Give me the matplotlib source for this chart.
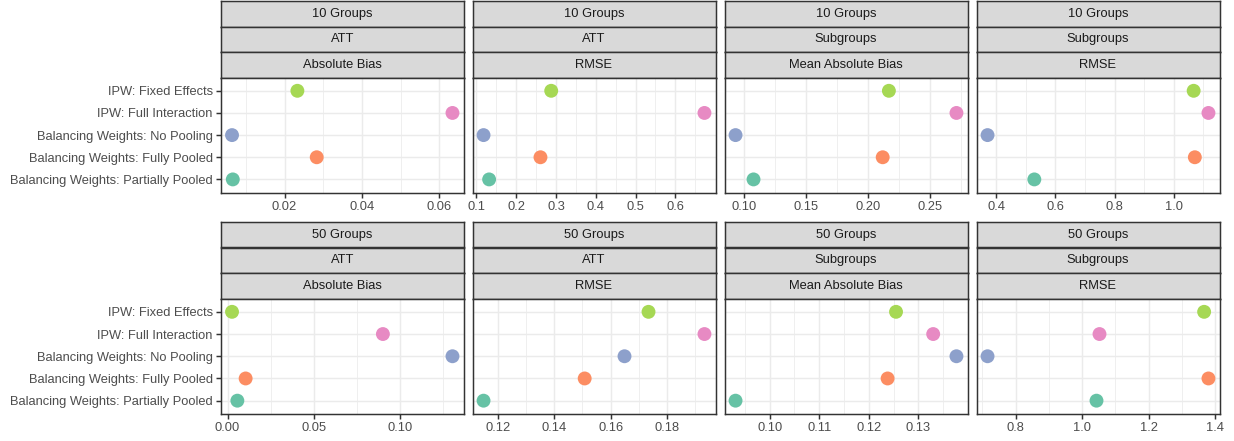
import numpy as np
import matplotlib
matplotlib.use("Agg")
import matplotlib.pyplot as plt

plt.rcParams["font.family"] = ["Liberation Sans", "DejaVu Sans"]

# Methods, listed bottom to top
methods = [
    "Balancing Weights: Partially Pooled",
    "Balancing Weights: Fully Pooled",
    "Balancing Weights: No Pooling",
    "IPW: Full Interaction",
    "IPW: Fixed Effects",
]
method_colors = ["#66C2A5", "#FC8D62", "#8DA0CB", "#E78AC3", "#A6D854"]

group_labels = ["10 Groups", "50 Groups"]
estimand_labels = ["ATT", "ATT", "Subgroups", "Subgroups"]
metric_labels = ["Absolute Bias", "RMSE", "Mean Absolute Bias", "RMSE"]

# Values per panel (same order as methods)
g10_att_bias = [0.0066, 0.0283, 0.0064, 0.0634, 0.0233]
g10_att_rmse = [0.132, 0.261, 0.118, 0.673, 0.288]
g10_sub_bias = [0.1078, 0.212, 0.0933, 0.2715, 0.217]
g10_sub_rmse = [0.529, 1.071, 0.371, 1.117, 1.067]
g50_att_bias = [0.0057, 0.0105, 0.1306, 0.0902, 0.0026]
g50_att_rmse = [0.1150, 0.1508, 0.1649, 0.1932, 0.1734]
g50_sub_bias = [0.0931, 0.1238, 0.1377, 0.1330, 0.1255]
g50_sub_rmse = [1.043, 1.379, 0.716, 1.052, 1.366]

panel_values = [
    [g10_att_bias, g10_att_rmse, g10_sub_bias, g10_sub_rmse],
    [g50_att_bias, g50_att_rmse, g50_sub_bias, g50_sub_rmse],
]

# Axis breaks and their labels
g10_ticks = [
    [0.02, 0.04, 0.06],
    [0.1, 0.2, 0.3, 0.4, 0.5, 0.6],
    [0.10, 0.15, 0.20, 0.25],
    [0.4, 0.6, 0.8, 1.0],
]
g10_ticklabels = [
    ["0.02", "0.04", "0.06"],
    ["0.1", "0.2", "0.3", "0.4", "0.5", "0.6"],
    ["0.10", "0.15", "0.20", "0.25"],
    ["0.4", "0.6", "0.8", "1.0"],
]
g50_ticks = [
    [0.00, 0.05, 0.10],
    [0.12, 0.14, 0.16, 0.18],
    [0.10, 0.11, 0.12, 0.13],
    [0.8, 1.0, 1.2, 1.4],
]
g50_ticklabels = [
    ["0.00", "0.05", "0.10"],
    ["0.12", "0.14", "0.16", "0.18"],
    ["0.10", "0.11", "0.12", "0.13"],
    ["0.8", "1.0", "1.2", "1.4"],
]
panel_ticks = [g10_ticks, g50_ticks]
panel_ticklabels = [g10_ticklabels, g50_ticklabels]

W, H = 1234, 441
DPI = 100
fig = plt.figure(figsize=(W / DPI, H / DPI), dpi=DPI)
fig.patch.set_facecolor("white")


def rect(x0, y0, x1, y1):
    return [x0 / W, 1 - y1 / H, (x1 - x0) / W, (y1 - y0) / H]


col_x = [(221, 463.5), (472.5, 715.5), (724.5, 967.5), (976.5, 1219.5)]
row_strip_top = [1, 222]
strip_h = 25.5
row_panel_bottom = [192.7, 414]

border_col = "#333333"
grid_col = "#EBEBEB"
strip_fill = "#D9D9D9"
lw = 1.07
fs = 9.3

for r in range(2):
    for c in range(4):
        x0, x1 = col_x[c]
        top = row_strip_top[r]
        strip_texts = [group_labels[r], estimand_labels[c], metric_labels[c]]
        for k, txt in enumerate(strip_texts):
            sy0 = top + k * strip_h
            sax = fig.add_axes(rect(x0, sy0, x1, sy0 + strip_h))
            sax.set_facecolor(strip_fill)
            sax.set_xticks([])
            sax.set_yticks([])
            for sp in sax.spines.values():
                sp.set_color(border_col)
                sp.set_linewidth(lw)
            sax.text(0.5, 0.5, txt, ha="center", va="center", fontsize=fs,
                     color="#1A1A1A", transform=sax.transAxes)

        py0 = top + 3 * strip_h
        py1 = row_panel_bottom[r]
        ax = fig.add_axes(rect(x0, py0, x1, py1))
        vals = panel_values[r][c]
        ypos = np.arange(len(methods))
        ax.scatter(vals, ypos, s=100, c=method_colors, edgecolors="none", zorder=3)
        ax.margins(x=0.05)
        ax.set_ylim(-0.6, len(methods) - 1 + 0.6)
        xlo, xhi = ax.get_xlim()

        ticks = panel_ticks[r][c]
        step = ticks[1] - ticks[0]
        ext = [ticks[0] - step] + list(ticks) + [ticks[-1] + step]
        minors = [(a + b) / 2 for a, b in zip(ext[:-1], ext[1:])]
        minors = [m for m in minors if xlo <= m <= xhi]
        for m in minors:
            ax.axvline(m, color=grid_col, lw=0.55, zorder=1)
        for t in ticks:
            ax.axvline(t, color=grid_col, lw=lw, zorder=1)
        for yv in ypos:
            ax.axhline(yv, color=grid_col, lw=lw, zorder=1)
        ax.set_xlim(xlo, xhi)

        ax.set_xticks(ticks)
        ax.set_xticklabels(panel_ticklabels[r][c])
        ax.tick_params(axis="x", length=3.8, width=lw, color=border_col,
                       labelsize=fs, labelcolor="#4D4D4D", pad=2.2)
        if c == 0:
            ax.set_yticks(ypos)
            ax.set_yticklabels(methods)
            ax.tick_params(axis="y", length=3.8, width=lw, color=border_col,
                           labelsize=fs, labelcolor="#4D4D4D", pad=2.2)
        else:
            ax.set_yticks([])
        for sp in ax.spines.values():
            sp.set_color(border_col)
            sp.set_linewidth(lw)
            sp.set_zorder(4)

fig.savefig("out.png", dpi=DPI, facecolor="white")
